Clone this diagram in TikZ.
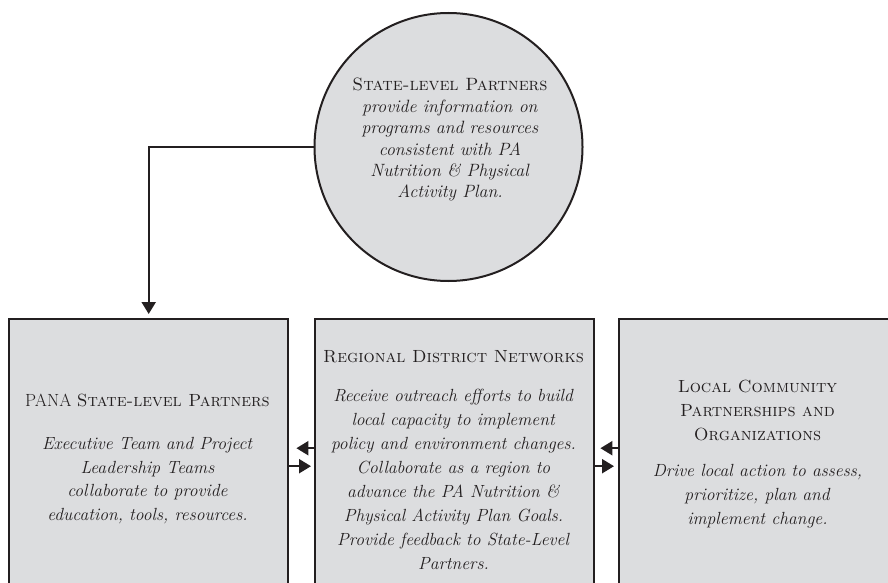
\documentclass[tikz,border=0pt]{standalone}
\usetikzlibrary{arrows.meta}
\definecolor{boxfill}{HTML}{DCDDDF}
\definecolor{ink}{HTML}{231F20}
\begin{document}
\begin{tikzpicture}[x=1pt,y=-1pt,
  box/.style={draw=ink, line width=2.4pt, fill=boxfill, rectangle, inner sep=0pt,
    minimum width=279pt, minimum height=280pt, anchor=north west},
  bubble/.style={draw=ink, line width=2pt, fill=boxfill, circle, inner sep=0pt, minimum size=268pt},
  lbl/.style={text=ink, align=center, inner sep=0pt, font=\fontsize{17.6}{23.9}\selectfont},
  conn/.style={draw=ink, line width=2.2pt, -{Triangle[length=12pt,width=14pt]}}]
\useasboundingbox (0,0) rectangle (888,583);
\node[box] (pana) at (8,318) {};
\node[box] (rdn) at (314,318) {};
\node[box] (lcp) at (618,318) {};
\node[bubble] (circ) at (448.5,147) {};

\node[lbl, font=\fontsize{17.8}{21.4}\selectfont] (circT) at (450,140) {\textsc{State-level Partners}\\
  \textit{provide information on}\\ \textit{programs and resources}\\
  \textit{consistent with PA}\\ \textit{Nutrition \& Physical}\\ \textit{Activity Plan.}};

\node[lbl] (panaT) at (147.5,459) {PANA \textsc{State-level Partners}\\[19pt]
  \textit{Executive Team and Project}\\ \textit{Leadership Teams}\\
  \textit{collaborate to provide}\\ \textit{education, tools, resources.}};

\node[lbl] (rdnT) at (453.5,460) {\textsc{Regional District Networks}\\[15pt]
  \textit{Receive outreach efforts to build}\\ \textit{local capacity to implement}\\
  \textit{policy and environment changes.}\\ \textit{Collaborate as a region to}\\
  \textit{advance the PA Nutrition \&}\\ \textit{Physical Activity Plan Goals.}\\
  \textit{Provide feedback to State-Level}\\ \textit{Partners.}};

\node[lbl] (lcpT) at (757.5,454) {\textsc{Local Community}\\ \textsc{Partnerships and}\\
  \textsc{Organizations}\\[12pt]
  \textit{Drive local action to assess,}\\ \textit{prioritize, plan and}\\
  \textit{implement change.}};

\draw[conn, shorten >=4pt] (circ.west) -| (pana.north);
\draw[conn] ([yshift=11pt]rdn.west) -- ([yshift=11pt,xshift=7pt]pana.east);
\draw[conn] ([yshift=-7pt]pana.east) -- ([yshift=-7pt,xshift=-3pt]rdn.west);
\draw[conn] ([yshift=11pt]lcp.west) -- ([yshift=11pt,xshift=5pt]rdn.east);
\draw[conn] ([yshift=-7pt]rdn.east) -- ([yshift=-7pt,xshift=-4pt]lcp.west);
\end{tikzpicture}
\end{document}
